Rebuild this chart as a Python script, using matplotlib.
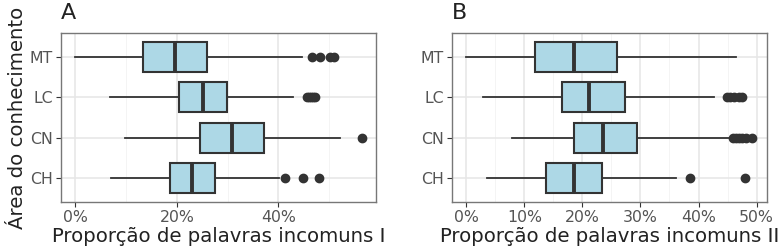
import matplotlib
matplotlib.use("Agg")
import matplotlib.pyplot as plt
from matplotlib.ticker import FuncFormatter, MultipleLocator

categories = ["CH", "CN", "LC", "MT"]

# Panel A: Proporção de palavras incomuns I (%)
a_whislo = [7.0, 9.8, 6.8, 0.0]
a_q1     = [18.7, 24.6, 20.4, 13.3]
a_med    = [22.9, 30.9, 25.2, 19.6]
a_q3     = [27.5, 37.2, 29.8, 25.9]
a_whishi = [40.2, 52.2, 42.8, 44.6]
a_fliers = [[41.3, 44.9, 47.9], [56.4], [45.6, 46.0, 46.4, 46.8, 47.2], [46.6, 48.1, 50.2, 51.0]]

# Panel B: Proporção de palavras incomuns II (%)
b_whislo = [3.5, 7.8, 2.8, 0.0]
b_q1     = [13.8, 18.6, 16.4, 11.9]
b_med    = [18.6, 23.6, 21.2, 18.6]
b_q3     = [23.4, 29.4, 27.3, 25.9]
b_whishi = [36.2, 45.8, 42.6, 46.4]
b_fliers = [[38.5, 48.0], [46.0, 46.5, 47.0, 47.5, 48.2, 49.3], [44.9, 45.5, 46.1, 46.9, 47.5], []]

fill = "#ADD8E6"
edge = "#333333"

fig = plt.figure(figsize=(7.81, 2.5), dpi=100)
W, H = 781, 250

def make_ax(l, r, t, b):
    return fig.add_axes([l / W, 1 - b / H, (r - l) / W, (b - t) / H])

def panel(ax, wlo, q1, med, q3, whi, fl, xlim, major, minor, xlabel, letter, lx):
    stats = []
    for i in range(len(categories)):
        stats.append(dict(whislo=wlo[i], q1=q1[i], med=med[i], q3=q3[i], whishi=whi[i], fliers=fl[i], label=categories[i]))
    ax.bxp(stats, positions=range(1, len(categories) + 1), vert=False, widths=0.75,
           patch_artist=True, showcaps=False,
           boxprops=dict(facecolor=fill, edgecolor=edge, linewidth=1.5),
           medianprops=dict(color=edge, linewidth=2.8),
           whiskerprops=dict(color=edge, linewidth=1.3),
           flierprops=dict(marker="o", markerfacecolor=edge, markeredgecolor=edge, markersize=6),
           zorder=3)
    ax.set_xlim(*xlim)
    ax.set_ylim(0.4, 4.6)
    ax.xaxis.set_major_locator(MultipleLocator(major))
    ax.xaxis.set_minor_locator(MultipleLocator(minor))
    ax.xaxis.set_major_formatter(FuncFormatter(lambda v, p: f"{v:.0f}%"))
    ax.grid(True, which="major", color="#E6E6E6", linewidth=1.1, zorder=0)
    ax.grid(True, which="minor", axis="x", color="#F2F2F2", linewidth=0.6, zorder=0)
    ax.set_axisbelow(True)
    for s in ax.spines.values():
        s.set_color("#777777")
        s.set_linewidth(1.0)
    ax.tick_params(axis="both", which="major", colors="#333333", labelcolor="#555555", labelsize=11.3, length=3.5, width=0.8, pad=2.5)
    ax.tick_params(axis="x", which="minor", length=0)
    ax.set_xlabel(xlabel, fontsize=14.2, color="#222222", labelpad=1)
    fig.text(lx / W, 1 - 13 / H, letter, fontsize=16, va="center", ha="left", color="#222222")

axA = make_ax(61, 376, 33, 202)
panel(axA, a_whislo, a_q1, a_med, a_q3, a_whishi, a_fliers, (-2.82, 59.2), 20, 10,
      "Proporção de palavras incomuns I", "A", 61)
axA.set_ylabel("Área do conhecimento", fontsize=14.2, labelpad=2, color="#222222")

axB = make_ax(452, 767, 33, 202)
panel(axB, b_whislo, b_q1, b_med, b_q3, b_whishi, b_fliers, (-2.47, 51.8), 10, 5,
      "Proporção de palavras incomuns II", "B", 452)

fig.savefig("out.png", dpi=100)
